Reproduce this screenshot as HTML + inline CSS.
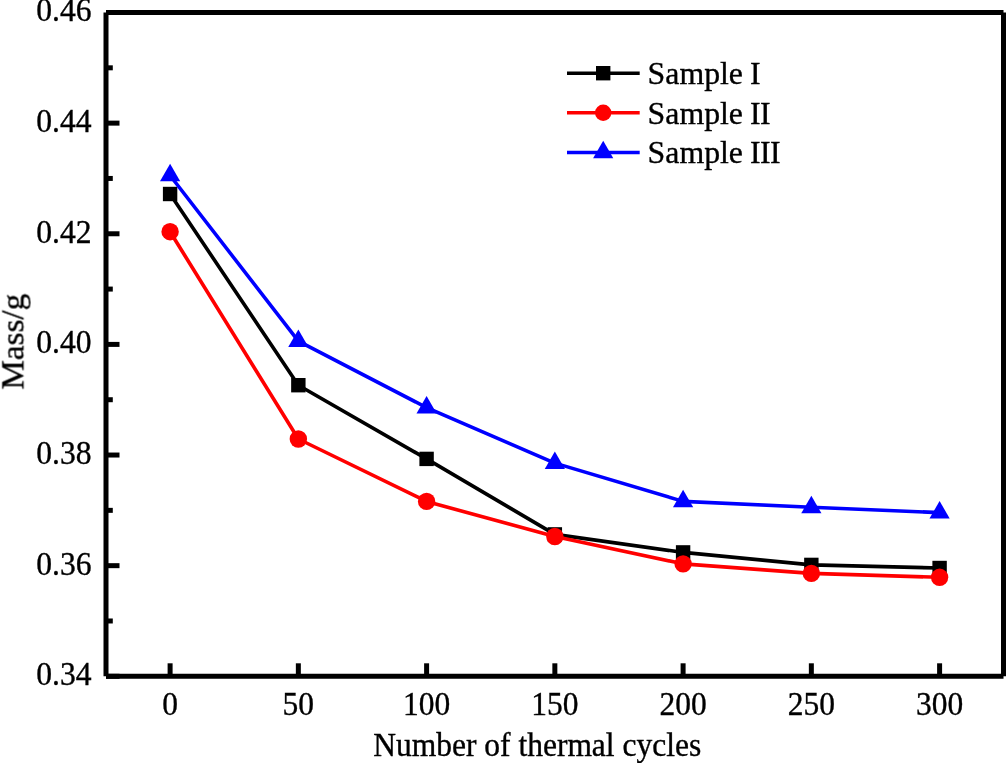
<!DOCTYPE html>
<html><head><meta charset="utf-8"><title>chart</title>
<style>html,body{margin:0;padding:0;background:#fff;}svg{display:block;}text{font-family:"Liberation Serif",serif;fill:#000;stroke:#000;stroke-width:0.35px;}</style></head><body>
<svg width="1006" height="763" viewBox="0 0 1006 763">
<rect width="1006" height="763" fill="#fff"/>
<g stroke="#000" stroke-width="5" fill="none" stroke-linecap="butt">
<line x1="106.0" y1="12.5" x2="106.0" y2="676.3"/>
<line x1="106.0" y1="12.5" x2="1003.5" y2="12.5"/>
<line x1="106.0" y1="676.3" x2="1003.5" y2="676.3"/>
<line x1="1003.5" y1="12.5" x2="1003.5" y2="676.3"/>
<line x1="170.10" y1="676.3" x2="170.10" y2="663.30"/>
<line x1="298.35" y1="676.3" x2="298.35" y2="663.30"/>
<line x1="426.60" y1="676.3" x2="426.60" y2="663.30"/>
<line x1="554.85" y1="676.3" x2="554.85" y2="663.30"/>
<line x1="683.10" y1="676.3" x2="683.10" y2="663.30"/>
<line x1="811.35" y1="676.3" x2="811.35" y2="663.30"/>
<line x1="939.60" y1="676.3" x2="939.60" y2="663.30"/>
<line x1="106.0" y1="12.50" x2="119.50" y2="12.50"/>
<line x1="106.0" y1="67.82" x2="112.80" y2="67.82"/>
<line x1="106.0" y1="123.13" x2="119.50" y2="123.13"/>
<line x1="106.0" y1="178.45" x2="112.80" y2="178.45"/>
<line x1="106.0" y1="233.77" x2="119.50" y2="233.77"/>
<line x1="106.0" y1="289.08" x2="112.80" y2="289.08"/>
<line x1="106.0" y1="344.40" x2="119.50" y2="344.40"/>
<line x1="106.0" y1="399.72" x2="112.80" y2="399.72"/>
<line x1="106.0" y1="455.03" x2="119.50" y2="455.03"/>
<line x1="106.0" y1="510.35" x2="112.80" y2="510.35"/>
<line x1="106.0" y1="565.67" x2="119.50" y2="565.67"/>
<line x1="106.0" y1="620.98" x2="112.80" y2="620.98"/>
<line x1="106.0" y1="676.30" x2="119.50" y2="676.30"/>
</g>
<g font-size="31.8" style="filter:grayscale(1)">
<text transform="translate(170.10,714.90) scale(1,1.045)" text-anchor="middle" font-size="31.5">0</text>
<text transform="translate(298.35,714.90) scale(1,1.045)" text-anchor="middle" font-size="31.5">50</text>
<text transform="translate(426.60,714.90) scale(1,1.045)" text-anchor="middle" font-size="31.5">100</text>
<text transform="translate(554.85,714.90) scale(1,1.045)" text-anchor="middle" font-size="31.5">150</text>
<text transform="translate(683.10,714.90) scale(1,1.045)" text-anchor="middle" font-size="31.5">200</text>
<text transform="translate(811.35,714.90) scale(1,1.045)" text-anchor="middle" font-size="31.5">250</text>
<text transform="translate(939.60,714.90) scale(1,1.045)" text-anchor="middle" font-size="31.5">300</text>
<text transform="translate(91.50,21.40) scale(1,1.04)" text-anchor="end" font-size="31.6">0.46</text>
<text transform="translate(91.50,132.03) scale(1,1.04)" text-anchor="end" font-size="31.6">0.44</text>
<text transform="translate(91.50,242.67) scale(1,1.04)" text-anchor="end" font-size="31.6">0.42</text>
<text transform="translate(91.50,353.30) scale(1,1.04)" text-anchor="end" font-size="31.6">0.40</text>
<text transform="translate(91.50,463.93) scale(1,1.04)" text-anchor="end" font-size="31.6">0.38</text>
<text transform="translate(91.50,574.57) scale(1,1.04)" text-anchor="end" font-size="31.6">0.36</text>
<text transform="translate(91.50,685.20) scale(1,1.04)" text-anchor="end" font-size="31.6">0.34</text>
<text transform="translate(537.20,756.40) scale(1,1.04)" text-anchor="middle" font-size="31.5">Number of thermal cycles</text>
<text transform="translate(23.50,341.60) rotate(-90) scale(1,0.97)" text-anchor="middle" font-size="33.2">Mass/g</text>
<text transform="translate(647.60,84.00) scale(1,1.0)">Sample <tspan dx="-0.8" letter-spacing="-0.7">I</tspan></text>
<text transform="translate(647.60,123.70) scale(1,1.0)">Sample <tspan dx="-0.8" letter-spacing="-0.7">II</tspan></text>
<text transform="translate(647.60,163.40) scale(1,1.0)">Sample <tspan dx="-0.8" letter-spacing="-0.7">III</tspan></text>
</g>
<polyline points="170.10,194.00 298.35,385.20 426.60,458.90 554.85,534.40 683.10,552.40 811.35,564.90 939.60,568.00" fill="none" stroke="#000" stroke-width="3.6" stroke-linejoin="round"/>
<rect x="162.90" y="186.80" width="14.4" height="14.4" fill="#000"/>
<rect x="291.15" y="378.00" width="14.4" height="14.4" fill="#000"/>
<rect x="419.40" y="451.70" width="14.4" height="14.4" fill="#000"/>
<rect x="547.65" y="527.20" width="14.4" height="14.4" fill="#000"/>
<rect x="675.90" y="545.20" width="14.4" height="14.4" fill="#000"/>
<rect x="804.15" y="557.70" width="14.4" height="14.4" fill="#000"/>
<rect x="932.40" y="560.80" width="14.4" height="14.4" fill="#000"/>
<polyline points="170.10,231.70 298.35,439.00 426.60,501.40 554.85,536.50 683.10,563.85 811.35,573.40 939.60,577.30" fill="none" stroke="#f00" stroke-width="3.6" stroke-linejoin="round"/>
<circle cx="170.10" cy="231.70" r="8.7" fill="#f00"/>
<circle cx="298.35" cy="439.00" r="8.7" fill="#f00"/>
<circle cx="426.60" cy="501.40" r="8.7" fill="#f00"/>
<circle cx="554.85" cy="536.50" r="8.7" fill="#f00"/>
<circle cx="683.10" cy="563.85" r="8.7" fill="#f00"/>
<circle cx="811.35" cy="573.40" r="8.7" fill="#f00"/>
<circle cx="939.60" cy="577.30" r="8.7" fill="#f00"/>
<polyline points="170.10,175.50 298.35,341.10 426.60,407.60 554.85,463.15 683.10,501.40 811.35,507.30 939.60,512.60" fill="none" stroke="#00f" stroke-width="3.6" stroke-linejoin="round"/>
<polygon points="170.10,163.83 160.00,181.33 180.20,181.33" fill="#00f"/>
<polygon points="298.35,329.43 288.25,346.93 308.45,346.93" fill="#00f"/>
<polygon points="426.60,395.93 416.50,413.43 436.70,413.43" fill="#00f"/>
<polygon points="554.85,451.48 544.75,468.98 564.95,468.98" fill="#00f"/>
<polygon points="683.10,489.73 673.00,507.23 693.20,507.23" fill="#00f"/>
<polygon points="811.35,495.63 801.25,513.13 821.45,513.13" fill="#00f"/>
<polygon points="939.60,500.93 929.50,518.43 949.70,518.43" fill="#00f"/>
<line x1="567" y1="73.2" x2="639.7" y2="73.2" stroke="#000" stroke-width="3.6"/>
<rect x="596.00" y="66.00" width="14.4" height="14.4" fill="#000"/>
<line x1="567" y1="112.8" x2="639.7" y2="112.8" stroke="#f00" stroke-width="3.6"/>
<circle cx="603.20" cy="112.80" r="8.2" fill="#f00"/>
<line x1="567" y1="152.5" x2="639.7" y2="152.5" stroke="#00f" stroke-width="3.6"/>
<polygon points="603.20,140.83 593.10,158.33 613.30,158.33" fill="#00f"/>
</svg></body></html>
